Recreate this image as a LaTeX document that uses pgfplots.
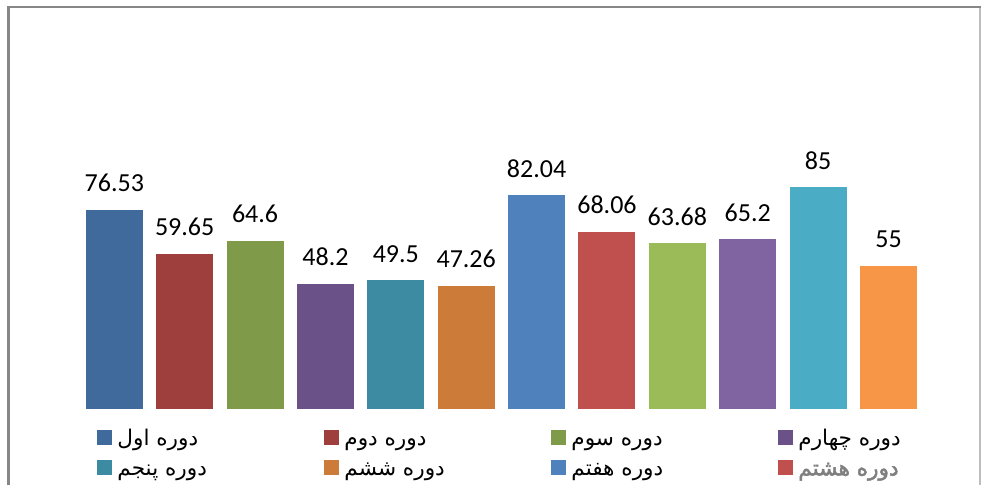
\documentclass[border=0pt]{standalone}
\usepackage{pgfplots}
\pgfplotsset{compat=1.18}
\usepackage{fontspec}
\setmainfont{Carlito}
\newfontfamily\arabicfont[Script=Arabic]{DejaVu Sans}
\newfontfamily\arabicbold[Script=Arabic, FakeBold=2.2]{DejaVu Sans}
\TeXXeTstate=1
\definecolor{c1}{HTML}{406A9B}
\definecolor{c2}{HTML}{9E3F3D}
\definecolor{c3}{HTML}{7F9A48}
\definecolor{c4}{HTML}{6A5188}
\definecolor{c5}{HTML}{3C8BA2}
\definecolor{c6}{HTML}{CC7B38}
\definecolor{c7}{HTML}{4F81BD}
\definecolor{c8}{HTML}{C0504D}
\definecolor{c9}{HTML}{9BBB59}
\definecolor{c10}{HTML}{8064A2}
\definecolor{c11}{HTML}{4BACC6}
\definecolor{c12}{HTML}{F79646}
\definecolor{leggray}{HTML}{7F7F7F}
\newcommand{\leg}[1]{\makebox[106pt][l]{\hspace{2.5pt}\rule[-4pt]{0pt}{13pt}\beginR #1\endR}}
\newcommand{\legb}[1]{\makebox[106pt][l]{\hspace{2.5pt}\rule[-4pt]{0pt}{13pt}\arabicbold\color{leggray}\beginR #1\endR}}
\begin{document}
\begin{tikzpicture}
\useasboundingbox (0,0) rectangle (490.5pt,242.5pt);
\fill[white] (0,0) rectangle (490.5pt,242.5pt);
\draw[line width=1.25pt, color={rgb,255:red,135;green,135;blue,135}] (4.25pt,-2pt) -- (4.25pt,239pt) -- (492pt,239pt);
\draw[line width=0.8pt, color={rgb,255:red,190;green,190;blue,190}] (490.1pt,-2pt) -- (490.1pt,238.4pt);
\begin{axis}[
  at={(39.55pt,37.75pt)}, anchor=south west,
  scale only axis, width=422.3pt, height=130.65pt,
  xmin=-0.5, xmax=11.5, ymin=0, ymax=100,
  hide axis, clip=false,
  ybar, bar width=28.5pt,
  every axis plot/.append style={legend image code/.code={\fill[##1] (0pt,-3.75pt) rectangle (7.5pt,3.75pt);}},
  nodes near coords={\pgfmathprintnumber[assume math mode=true]{\pgfplotspointmeta}},
  nodes near coords style={font=\fontsize{13}{13}\selectfont, anchor=base, yshift=9pt, text=black},
  legend columns=4,
  legend style={at={(0.0212,-0.067)}, anchor=north west, draw=none, fill=none, inner sep=0pt, row sep=4.5pt, column sep=0pt, font=\arabicfont\fontsize{10.8}{12}\selectfont, nodes={inner sep=0pt}},
  legend cell align=left,
]
\addplot[fill=c1, draw=none, bar shift=0pt] coordinates {(0,76.53)};
\addplot[fill=c2, draw=none, bar shift=0pt] coordinates {(1,59.65)};
\addplot[fill=c3, draw=none, bar shift=0pt] coordinates {(2,64.6)};
\addplot[fill=c4, draw=none, bar shift=0pt] coordinates {(3,48.2)};
\addplot[fill=c5, draw=none, bar shift=0pt] coordinates {(4,49.5)};
\addplot[fill=c6, draw=none, bar shift=0pt] coordinates {(5,47.26)};
\addplot[fill=c7, draw=none, bar shift=0pt] coordinates {(6,82.04)};
\addplot[fill=c8, draw=none, bar shift=0pt] coordinates {(7,68.06)};
\addplot[fill=c9, draw=none, bar shift=0pt] coordinates {(8,63.68)};
\addplot[fill=c10, draw=none, bar shift=0pt] coordinates {(9,65.2)};
\addplot[fill=c11, draw=none, bar shift=0pt] coordinates {(10,85)};
\addplot[fill=c12, draw=none, bar shift=0pt] coordinates {(11,55)};
\legend{\leg{دوره اول},\leg{دوره دوم},\leg{دوره سوم},\leg{دوره چهارم},\leg{دوره پنجم},\leg{دوره ششم},\leg{دوره هفتم},\legb{دوره هشتم}}
\end{axis}
\end{tikzpicture}
\end{document}
